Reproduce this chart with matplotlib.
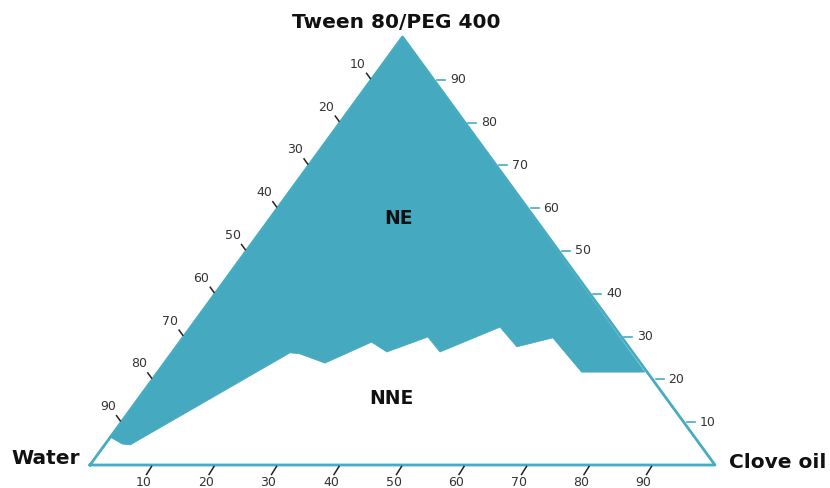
import numpy as np
import matplotlib.pyplot as plt

# NE / NNE boundary (percent clove oil, percent Tween 80/PEG 400)
ne_oil = [0, 2.7, 4.1, 18.9, 20.5, 25.7, 30.7, 34.3, 39.1, 42.8, 49.5, 54.5, 59.2, 67.8, 77.9]
ne_tween = [6.5, 4.9, 4.7, 26.2, 26.0, 23.8, 28.7, 26.4, 29.9, 26.4, 32.2, 27.6, 29.7, 21.7, 21.7]

tick_values = [10, 20, 30, 40, 50, 60, 70, 80, 90]

region_names = ["NE", "NNE"]
region_oil = [20.6, 40.5]
region_tween = [57.6, 15.5]

fill_color = "#45a9bf"
edge_color = "#47abc1"

H = np.sqrt(3) / 2 * 100


def xy(oil, tween):
    oil = np.asarray(oil, float)
    tween = np.asarray(tween, float)
    return oil + tween / 2, tween * np.sqrt(3) / 2


fig = plt.figure(figsize=(8.3, 4.88), dpi=100)
ax = fig.add_axes([90 / 830, 23 / 488, 625 / 830, 428 / 488])
ax.set_xlim(0, 100)
ax.set_ylim(0, H)
ax.axis("off")

sx = 625 / 100
sy = 428 / H


def shift(p, dx, dy):
    # move a data point by a pixel offset (dy positive = down)
    return p[0] + dx / sx, p[1] - dy / sy


# NE region: apex -> left edge -> boundary -> right edge -> apex
px, py = xy([0] + ne_oil, [100] + ne_tween)
ax.fill(px, py, color=fill_color, lw=0.5, ec=fill_color, clip_on=False, zorder=2)

# triangle outline on top
tx, ty = xy([0, 100, 0, 0], [0, 0, 100, 0])
ax.plot(tx, ty, color=edge_color, lw=2, clip_on=False, zorder=3)

tick_kw = dict(color="#222222", lw=1.1, clip_on=False, zorder=3)
lab_kw = dict(fontsize=9, color="#333333", ha="center", va="center")

for v in tick_values:
    # bottom: clove oil
    b = xy(v, 0)
    a0, a1 = shift(b, -1, 1.5), shift(b, -6, 9.5)
    ax.plot([a0[0], a1[0]], [a0[1], a1[1]], **tick_kw)
    ax.text(*shift(b, -9, 17.5), str(v), **lab_kw)
    # left: water
    b = xy(0, 100 - v)
    a0, a1 = shift(b, -1, -1.4), shift(b, -4.7, -6.5)
    ax.plot([a0[0], a1[0]], [a0[1], a1[1]], **tick_kw)
    ax.text(*shift(b, -13.5, -15.5), str(v), **lab_kw)
    # right: Tween 80/PEG 400
    b = xy(100 - v, v)
    a0, a1 = shift(b, 3, 0), shift(b, 11, 0)
    ax.plot([a0[0], a1[0]], [a0[1], a1[1]], color=edge_color, lw=1.2, clip_on=False, zorder=3)
    ax.text(*shift(b, 16, 0), str(v), fontsize=9, color="#333333", ha="left", va="center")

# vertex labels
vk = dict(fontsize=14.5, fontweight="bold", color="#111111", va="center")
ax.text(*shift(xy(0, 100), -6.5, -14), "Tween 80/PEG 400", ha="center", **vk)
ax.text(*shift(xy(0, 0), -10, -6), "Water", ha="right", **vk)
ax.text(*shift(xy(100, 0), 14, -3), "Clove oil", ha="left", **vk)

for name, o, t in zip(region_names, region_oil, region_tween):
    ax.text(*xy(o, t), name, fontsize=13.5, fontweight="bold", color="#111111",
            ha="center", va="center", zorder=4)

fig.savefig("out.png", dpi=100)
